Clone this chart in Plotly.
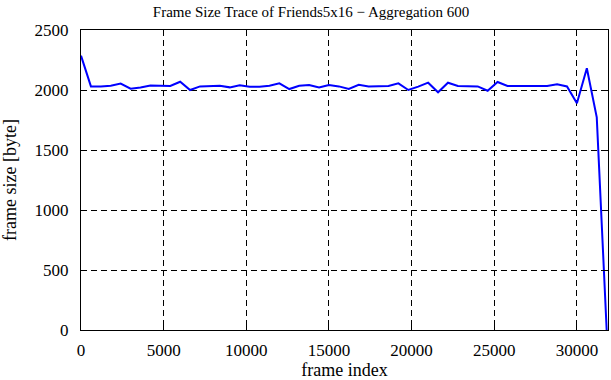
import plotly.graph_objects as go

frame_index = [0, 600, 1200, 1800, 2400, 3000, 3600, 4200, 4800, 5400, 6000, 6600, 7200, 7800,
               8400, 9000, 9600, 10200, 10800, 11400, 12000, 12600, 13200, 13800, 14400, 15000,
               15600, 16200, 16800, 17400, 18000, 18600, 19200, 19800, 20400, 21000, 21600, 22200,
               22800, 23400, 24000, 24600, 25200, 25800, 26400, 27000, 27600, 28200, 28800, 29400,
               30000, 30600, 31200, 31800]
frame_size = [2286, 2030, 2030, 2036, 2053, 2011, 2020, 2038, 2036, 2033, 2069, 2000, 2030, 2036,
              2036, 2022, 2039, 2028, 2028, 2036, 2055, 2008, 2036, 2042, 2022, 2042,
              2030, 2008, 2044, 2030, 2030, 2033, 2055, 2000, 2028, 2061, 1981, 2061,
              2033, 2030, 2030, 1994, 2067, 2033, 2033, 2030, 2030, 2033, 2047, 2030,
              1889, 2181, 1772, 0]

x_ticks = [0, 5000, 10000, 15000, 20000, 25000, 30000]
y_ticks = [0, 500, 1000, 1500, 2000, 2500]

family = "Liberation Serif, Times New Roman, serif"
font = dict(family=family, size=17, color="black")
title_font = dict(family=family, size=18, color="black")

fig = go.Figure()
fig.add_trace(go.Scatter(x=frame_index, y=frame_size, mode="lines",
                         line=dict(color="#0000ff", width=2), showlegend=False))

axis_common = dict(showline=True, linecolor="black", linewidth=1, mirror="ticks",
                   ticks="inside", ticklen=5, tickcolor="black", tickwidth=1,
                   showgrid=True, gridcolor="black", gridwidth=1, griddash="6px,4px",
                   zeroline=False, tickfont=font, automargin=False)

fig.update_layout(
    width=611, height=380,
    margin=dict(l=81, r=3, t=30, b=50),
    paper_bgcolor="white", plot_bgcolor="white",
    font=font,
    title=dict(text="Frame Size Trace of Friends5x16 \u2212 Aggregation 600",
               x=311/611, xref="container", xanchor="center",
               y=1 - 12/380, yref="container", yanchor="middle",
               font=dict(family=family, size=15, color="black")),
    xaxis=dict(range=[0, 31880], tickvals=x_ticks, ticktext=[str(v) for v in x_ticks],
               title=dict(text="frame index", standoff=6, font=title_font),
               ticklabelstandoff=5, **axis_common),
    yaxis=dict(range=[0, 2500], tickvals=y_ticks, ticktext=[str(v) for v in y_ticks],
               title=dict(text="frame size [byte]", standoff=13, font=title_font),
               ticklabelstandoff=8, **axis_common),
)

fig.write_html("out.html",
               config={"displayModeBar": False},
               post_script="document.body.style.margin='0';document.body.style.overflow='hidden';")
